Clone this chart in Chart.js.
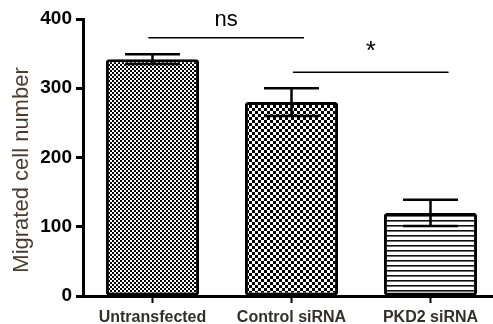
<!DOCTYPE html>
<html>
<head>
<meta charset="utf-8">
<script src="https://cdn.jsdelivr.net/npm/chart.js@4"></script>
<style>
  html, body { margin: 0; padding: 0; background: #fff; overflow: hidden; }
  #wrap { width: 500px; height: 324px; }
</style>
</head>
<body>
<div id="wrap"><canvas id="myChart" width="500" height="324"></canvas></div>
<script>
// chart values
var categories = ['Untransfected', 'Control siRNA', 'PKD2 siRNA'];
var means = [342, 280, 120];
var sems = [7, 20, 19];
var yTicks = [0, 100, 200, 300, 400];
var yTitle = 'Migrated cell number';

// significance bars (category index range, height in y units)
var sigLabels = ['ns', '*'];
var sigFrom = [-0.03, 1.01];
var sigTo = [1.09, 2.13];
var sigY = [373, 323];

function makePattern(kind) {
    var c = document.createElement('canvas');
    var g = c.getContext('2d');
    if (kind === 'fine') {
        c.width = 4; c.height = 4;
        g.fillStyle = '#fff'; g.fillRect(0, 0, 4, 4);
        g.fillStyle = '#000';
        g.fillRect(0, 0, 2, 2); g.fillRect(2, 2, 2, 2);
    } else if (kind === 'coarse') {
        c.width = 6; c.height = 6;
        g.fillStyle = '#fff'; g.fillRect(0, 0, 6, 6);
        g.fillStyle = '#000';
        g.fillRect(0, 0, 3, 3); g.fillRect(3, 3, 3, 3);
    } else {
        c.width = 5; c.height = 5;
        g.fillStyle = '#fff'; g.fillRect(0, 0, 5, 5);
        g.fillStyle = '#111';
        g.fillRect(0, 0, 5, 1.6);
    }
    return g.createPattern(c, 'repeat');
}

var ctx = document.getElementById('myChart').getContext('2d');

var extras = {
    id: 'extras',
    afterDatasetsDraw: function(chart) {
        var c = chart.ctx, xs = chart.scales.x, ys = chart.scales.y;
        c.save();
        c.strokeStyle = '#000';
        // error bars
        c.lineWidth = 2.5;
        for (var i = 0; i < means.length; i++) {
            var x = xs.getPixelForValue(i);
            var hi = ys.getPixelForValue(means[i] + sems[i]);
            var lo = ys.getPixelForValue(means[i] - sems[i]);
            c.beginPath();
            c.moveTo(x, hi); c.lineTo(x, lo);
            c.moveTo(x - 27.5, hi); c.lineTo(x + 27.5, hi);
            c.moveTo(x - 27.5, lo); c.lineTo(x + 27.5, lo);
            c.stroke();
        }
        // significance lines
        c.lineWidth = 1.5;
        c.fillStyle = '#000';
        c.textAlign = 'center';
        c.textBaseline = 'middle';
        for (var k = 0; k < sigLabels.length; k++) {
            var x1 = xs.getPixelForValue(sigFrom[k]);
            var x2 = xs.getPixelForValue(sigTo[k]);
            var y = ys.getPixelForValue(sigY[k]);
            c.beginPath();
            c.moveTo(x1, y); c.lineTo(x2, y);
            c.stroke();
            if (k === 0) {
                c.font = '22px "Liberation Sans", Arial, sans-serif';
                c.fillText(sigLabels[k], (x1 + x2) / 2, y - 18);
            } else {
                c.font = '26px "Liberation Sans", Arial, sans-serif';
                c.fillText(sigLabels[k], (x1 + x2) / 2, y - 20);
            }
        }
        // y axis title, sits a bit below the axis middle like the original
        c.translate(22, ys.getPixelForValue(182));
        c.rotate(-Math.PI / 2);
        c.fillStyle = '#4a3b2e';
        c.font = '22px "Liberation Sans", Arial, sans-serif';
        c.fillText(yTitle, 0, 0);
        c.restore();
    }
};

var chart = new Chart(ctx, {
    type: 'bar',
    data: {
        labels: categories,
        datasets: [{
            data: means,
            backgroundColor: [makePattern('fine'), makePattern('coarse'), makePattern('lines')],
            borderColor: '#000',
            borderWidth: 3,
            borderRadius: 3,
            borderSkipped: false,
            categoryPercentage: 1,
            barPercentage: 0.67
        }]
    },
    options: {
        responsive: false,
        animation: false,
        layout: { padding: { top: 19, right: 0, left: 0, bottom: 0 } },
        plugins: { legend: { display: false }, tooltip: { enabled: false } },
        scales: {
            x: {
                afterFit: function(s) { s.height = 28; },
                grid: { drawOnChartArea: false, offset: false, tickLength: 7, tickWidth: 2, tickColor: '#000' },
                border: { color: '#000', width: 3 },
                ticks: {
                    color: '#33302a',
                    padding: 5,
                    maxRotation: 0,
                    font: { family: '"Liberation Sans", Arial, sans-serif', size: 16, weight: 'bold' }
                }
            },
            y: {
                min: 0,
                max: 400,
                afterFit: function(s) { s.width = 83; },
                afterBuildTicks: function(s) { s.ticks = yTicks.map(function(v) { return { value: v }; }); },
                grid: { drawOnChartArea: false, tickLength: 7, tickWidth: 3, tickColor: '#000' },
                border: { color: '#000', width: 3 },
                ticks: {
                    color: '#000',
                    padding: 4,
                    font: { family: '"Liberation Sans", Arial, sans-serif', size: 19, weight: 'bold' }
                }
            }
        }
    },
    plugins: [extras]
});
</script>
</body>
</html>
